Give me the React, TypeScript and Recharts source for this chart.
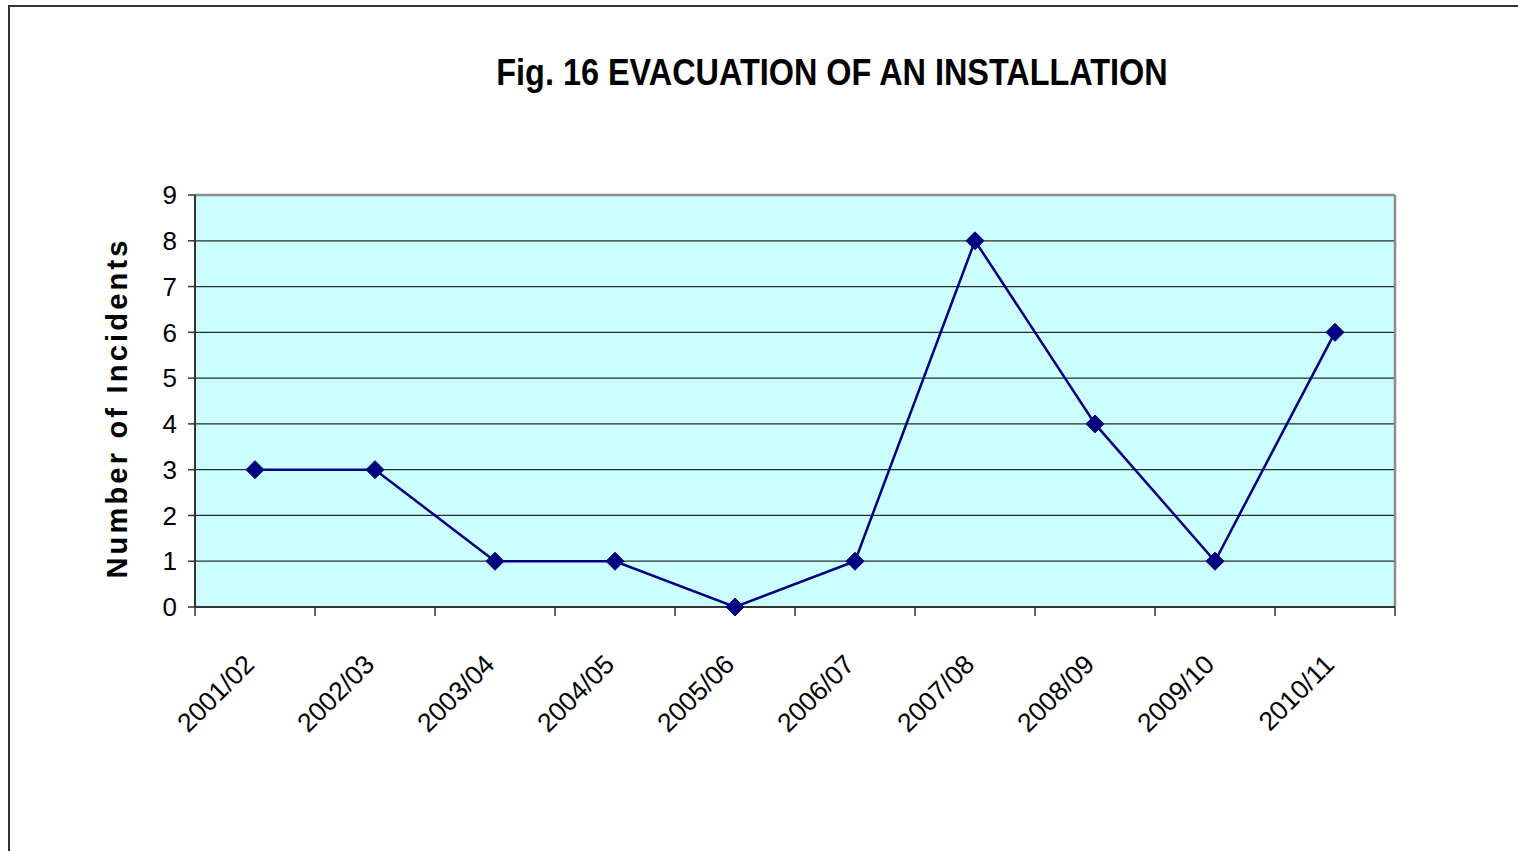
import React from "react";
import {
  CartesianGrid,
  Line,
  LineChart,
  ReferenceLine,
  XAxis,
  YAxis,
} from "recharts";

const periods = [
  "2001/02",
  "2002/03",
  "2003/04",
  "2004/05",
  "2005/06",
  "2006/07",
  "2007/08",
  "2008/09",
  "2009/10",
  "2010/11",
];
const incidents = [3, 3, 1, 1, 0, 1, 8, 4, 1, 6];
const yTicks = [0, 1, 2, 3, 4, 5, 6, 7, 8, 9];
const boundaryTicks = [0, 1, 2, 3, 4, 5, 6, 7, 8, 9, 10];

const W = 1518;
const H = 851;
const PLOT_LEFT = 195;
const PLOT_RIGHT = 1395;
const PLOT_TOP = 195;
const PLOT_BOTTOM = 607;
const BAND = (PLOT_RIGHT - PLOT_LEFT) / periods.length;
const FONT = '"Liberation Sans", Arial, sans-serif';

const data = periods.map((p, i) => ({ period: p, pos: i + 0.5, count: incidents[i] }));

function PeriodTick(props: any) {
  const { x, y, payload } = props;
  const i = payload.value;
  if (i >= periods.length) return null;
  const ax = x + BAND / 2 + 1;
  const ay = y + 48;
  return (
    <text
      x={ax}
      y={ay}
      textAnchor="end"
      fontSize={26.5}
      fontFamily={FONT}
      fill="#000"
      transform={`rotate(-45, ${ax}, ${ay})`}
    >
      {periods[i]}
    </text>
  );
}

function Diamond(props: any) {
  const { cx, cy } = props;
  if (cx == null || cy == null) return null;
  const r = 9;
  return (
    <polygon
      points={`${cx},${cy - r} ${cx + r},${cy} ${cx},${cy + r} ${cx - r},${cy}`}
      fill="#000080"
      stroke="#000080"
    />
  );
}

export default function App() {
  return (
    <div style={{ position: "absolute", left: 0, top: 0, width: W, height: H, overflow: "hidden", background: "#fff" }}>
      <div
        style={{
          position: "absolute",
          left: 8,
          top: 5,
          width: 1700,
          height: 1000,
          border: "2px solid #333",
        }}
      />
      <div
        style={{
          position: "absolute",
          left: 832,
          top: 73,
          transform: "translate(-50%, -50%) scaleX(0.9)",
          fontFamily: FONT,
          fontWeight: "bold",
          fontSize: 36,
          color: "#000",
          whiteSpace: "nowrap",
        }}
      >
        Fig. 16 EVACUATION OF AN INSTALLATION
      </div>
      <div
        style={{
          position: "absolute",
          left: 117,
          top: 408,
          transform: "translate(-50%, -50%) rotate(-90deg)",
          fontFamily: FONT,
          fontWeight: "bold",
          fontSize: 29,
          letterSpacing: 3.2,
          color: "#000",
          whiteSpace: "nowrap",
        }}
      >
        Number of Incidents
      </div>
      <div style={{ position: "absolute", left: 0, top: 0 }}>
        <LineChart
          width={W}
          height={H}
          data={data}
          margin={{ top: PLOT_TOP, right: W - PLOT_RIGHT, bottom: H - PLOT_BOTTOM - 100, left: PLOT_LEFT - 60 }}
        >
          <CartesianGrid
            vertical={false}
            horizontal
            stroke="#2b2b2b"
            strokeWidth={1.2}
            fill="#CCFFFF"
            fillOpacity={1}
          />
          <XAxis
            type="number"
            dataKey="pos"
            domain={[0, periods.length]}
            ticks={boundaryTicks}
            interval={0}
            height={100}
            axisLine={{ stroke: "#333", strokeWidth: 2 }}
            tickLine={{ stroke: "#333", strokeWidth: 1.5 }}
            tickSize={9}
            tick={<PeriodTick />}
          />
          <YAxis
            type="number"
            domain={[0, 9]}
            ticks={yTicks}
            interval={0}
            width={60}
            axisLine={{ stroke: "#333", strokeWidth: 2 }}
            tickLine={{ stroke: "#333", strokeWidth: 1.5 }}
            tickSize={7}
            tickMargin={11}
            tick={{ fontSize: 26, fill: "#000", fontFamily: FONT }}
          />
          <ReferenceLine y={9} stroke="#8c8c8c" strokeWidth={2.5} />
          <ReferenceLine x={periods.length} stroke="#8c8c8c" strokeWidth={2.5} />
          <Line
            type="linear"
            dataKey="count"
            stroke="#000080"
            strokeWidth={2.5}
            dot={<Diamond />}
            activeDot={false}
            isAnimationActive={false}
          />
        </LineChart>
      </div>
    </div>
  );
}
